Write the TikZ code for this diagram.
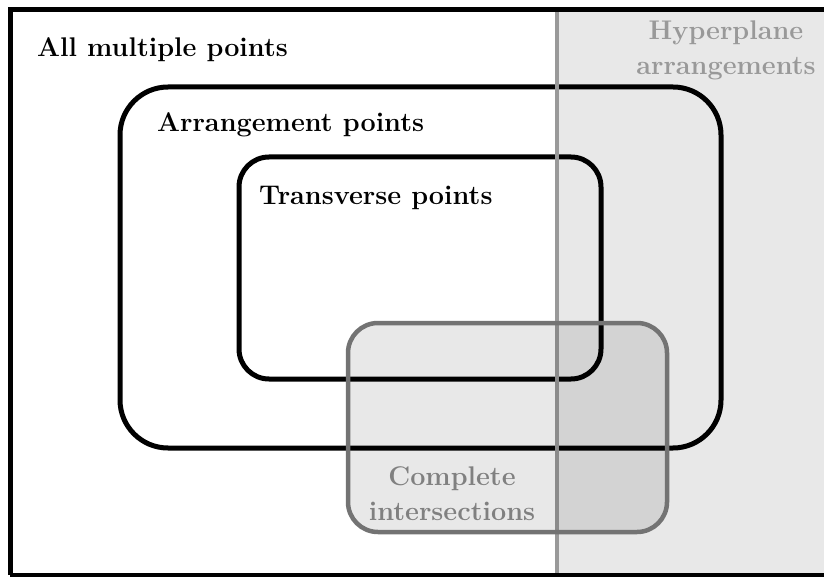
\documentclass[tikz,border=0pt]{standalone}
\begin{document}
\begin{tikzpicture}[x=1pt,y=-1pt,
  setbox/.style={draw=black,line width=5pt,rounded corners=#1},
  lbl/.style={font=\fontsize{27}{35}\selectfont\bfseries,inner sep=0pt},
  hyplbl/.style={lbl,text=black!40,align=center},
  cilbl/.style={lbl,text=black!50,align=center}]
\useasboundingbox (0,0) rectangle (824,577);
% hyperplane region
\fill[fill=black!9] (557,10) rectangle (840,590);
% arrangement and transverse
\draw[setbox=48pt] (120,87) rectangle (721,448);
\draw[setbox=30pt] (239,157) rectangle (601,379);
% hyperplane boundary
\draw[draw=black!40,line width=4.5pt] (557,12) coordinate (h1) -- (557,577) coordinate (h2);
% outer
\draw[draw=black,line width=5pt] (10,575) -- (10,10) -- (840,10);
\draw[draw=black,line width=5pt] (10,575) -- (840,575);
% complete intersections
\draw[draw=black!55,line width=4.5pt,fill=black,fill opacity=0.09,rounded corners=30pt] (348,323) rectangle (667,532);
% labels
\node[lbl,anchor=west] (all) at (37,50) {All multiple points};
\node[lbl,anchor=west] (arr) at (157,125) {Arrangement points};
\node[lbl,anchor=west] (tra) at (259,198) {Transverse points};
\node[hyplbl] (hyp) at (726,50) {Hyperplane\\arrangements};
\node[cilbl] (ci) at (452,494) {Complete\\intersections};
\end{tikzpicture}
\end{document}
